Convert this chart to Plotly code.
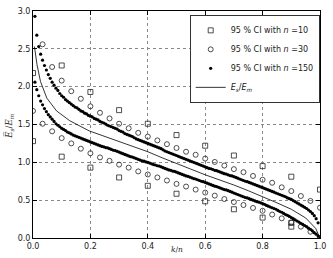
import plotly.graph_objects as go

# ---- data ----
sq_up_x = [0.0, 0.1, 0.2, 0.3, 0.4, 0.5, 0.6, 0.7, 0.8, 0.9, 1.0]
sq_up_y = [2.18, 2.28, 1.93, 1.69, 1.51, 1.36, 1.22, 1.09, 0.95, 0.81, 0.64]
sq_lo_x = [0.0, 0.1, 0.2, 0.3, 0.4, 0.5, 0.6, 0.7, 0.8, 0.9, 0.9]
sq_lo_y = [1.28, 1.075, 0.93, 0.80, 0.69, 0.585, 0.485, 0.38, 0.27, 0.20, 0.15]

k30 = list(range(0, 31))
c_up_y = [1.68, 2.56, 2.26, 2.08, 1.94, 1.84, 1.74, 1.655, 1.58, 1.51, 1.45,
          1.39, 1.34, 1.29, 1.24, 1.19, 1.14, 1.10, 1.05, 1.005, 0.957,
          0.91, 0.87, 0.82, 0.77, 0.73, 0.67, 0.62, 0.555, 0.49, 0.40]
c_lo_y = [None, 1.51, 1.41, 1.32, 1.25, 1.18, 1.12, 1.065, 1.02, 0.97, 0.93,
          0.88, 0.84, 0.80, 0.76, 0.715, 0.68, 0.64, 0.60, 0.56, 0.515,
          0.475, 0.436, 0.397, 0.36, 0.31, 0.26, 0.205, 0.15, 0.083, 0.0]

k150 = list(range(1, 151))
d_up_y = [2.93, 2.68, 2.53, 2.43, 2.35, 2.28, 2.22, 2.16, 2.11, 2.06,
          2.02, 1.98, 1.95, 1.91, 1.88, 1.86, 1.83, 1.81, 1.79, 1.77,
          1.75, 1.73, 1.72, 1.70, 1.68, 1.67, 1.65, 1.64, 1.62, 1.61,
          1.60, 1.58, 1.57, 1.56, 1.54, 1.53, 1.52, 1.505, 1.49, 1.48,
          1.47, 1.46, 1.45, 1.44, 1.42, 1.41, 1.40, 1.38, 1.37, 1.36,
          1.35, 1.34, 1.325, 1.31, 1.30, 1.29, 1.28, 1.27, 1.26, 1.25,
          1.24, 1.23, 1.22, 1.21, 1.20, 1.19, 1.18, 1.165, 1.15, 1.14,
          1.13, 1.12, 1.11, 1.10, 1.09, 1.08, 1.07, 1.06, 1.05, 1.04,
          1.03, 1.02, 1.01, 1.00, 0.99, 0.98, 0.97, 0.96, 0.95, 0.94,
          0.93, 0.92, 0.915, 0.905, 0.895, 0.89, 0.88, 0.87, 0.86, 0.85,
          0.845, 0.835, 0.825, 0.82, 0.81, 0.80, 0.79, 0.78, 0.77, 0.76,
          0.75, 0.745, 0.735, 0.725, 0.715, 0.705, 0.695, 0.685, 0.675, 0.665,
          0.655, 0.645, 0.635, 0.625, 0.615, 0.605, 0.595, 0.585, 0.575, 0.565,
          0.555, 0.545, 0.53, 0.52, 0.51, 0.495, 0.48, 0.465, 0.45, 0.435,
          0.42, 0.405, 0.39, 0.37, 0.35, 0.325, 0.295, 0.255, 0.20, 0.0]
d_lo_y = [2.06, 1.96, 1.88, 1.81, 1.76, 1.71, 1.67, 1.63, 1.60, 1.57,
          1.54, 1.51, 1.49, 1.47, 1.45, 1.435, 1.42, 1.40, 1.39, 1.375,
          1.36, 1.35, 1.34, 1.33, 1.32, 1.31, 1.30, 1.29, 1.28, 1.27,
          1.26, 1.25, 1.24, 1.23, 1.22, 1.21, 1.205, 1.195, 1.19, 1.18,
          1.17, 1.16, 1.155, 1.145, 1.135, 1.125, 1.115, 1.105, 1.095, 1.085,
          1.075, 1.07, 1.06, 1.05, 1.04, 1.03, 1.02, 1.015, 1.005, 1.00,
          0.99, 0.98, 0.97, 0.965, 0.955, 0.95, 0.94, 0.93, 0.92, 0.91,
          0.90, 0.895, 0.885, 0.88, 0.87, 0.86, 0.85, 0.84, 0.83, 0.82,
          0.815, 0.805, 0.795, 0.785, 0.78, 0.77, 0.76, 0.75, 0.745, 0.735,
          0.725, 0.715, 0.705, 0.695, 0.685, 0.68, 0.67, 0.66, 0.65, 0.64,
          0.635, 0.625, 0.615, 0.605, 0.595, 0.585, 0.575, 0.565, 0.555, 0.545,
          0.535, 0.53, 0.52, 0.51, 0.50, 0.49, 0.48, 0.475, 0.465, 0.455,
          0.445, 0.43, 0.42, 0.41, 0.40, 0.39, 0.38, 0.365, 0.35, 0.34,
          0.325, 0.31, 0.30, 0.285, 0.27, 0.255, 0.24, 0.225, 0.21, 0.195,
          0.18, 0.165, 0.15, 0.13, 0.115, 0.095, 0.07, 0.05, 0.025, 0.0]

mean_x = [0.005, 0.014, 0.026, 0.048, 0.082, 0.128, 0.196, 0.25, 0.3, 0.35,
          0.4, 0.45, 0.5, 0.55, 0.6, 0.65, 0.7, 0.75, 0.8, 0.85, 0.9, 0.95,
          0.985, 1.0]
mean_y = [2.53, 2.29, 2.07, 1.85, 1.68, 1.55, 1.415, 1.34, 1.27, 1.21,
          1.14, 1.06, 0.99, 0.91, 0.835, 0.77, 0.70, 0.625, 0.55, 0.465,
          0.38, 0.265, 0.127, 0.0]

x_ticks = [0.0, 0.2, 0.4, 0.6, 0.8, 1.0]
y_ticks = [0.0, 0.5, 1.0, 1.5, 2.0, 2.5, 3.0]

# ---- figure ----
c30x = [k / 30 for k in k30]
c150x = [k / 150 for k in k150]
lbl = "95 % CI with <i>n</i> ="
mk_sq = dict(symbol="square-open", size=5, color="#222", line=dict(width=0.8))
mk_ci = dict(symbol="circle-open", size=5, color="#222", line=dict(width=0.8))
mk_dt = dict(symbol="circle", size=3.2, color="black")

fig = go.Figure()
fig.add_trace(go.Scatter(x=sq_up_x, y=sq_up_y, mode="markers", marker=mk_sq,
                         name=lbl + "10", legendgroup="a", cliponaxis=True))
fig.add_trace(go.Scatter(x=sq_lo_x, y=sq_lo_y, mode="markers", marker=mk_sq,
                         showlegend=False, legendgroup="a", cliponaxis=True))
fig.add_trace(go.Scatter(x=c30x, y=c_up_y, mode="markers", marker=mk_ci,
                         name=lbl + "30", legendgroup="b", cliponaxis=True))
fig.add_trace(go.Scatter(x=c30x, y=c_lo_y, mode="markers", marker=mk_ci,
                         showlegend=False, legendgroup="b", cliponaxis=True))
fig.add_trace(go.Scatter(x=c150x, y=d_up_y, mode="markers", marker=mk_dt,
                         name=lbl + "150", legendgroup="c", cliponaxis=True))
fig.add_trace(go.Scatter(x=c150x, y=d_lo_y, mode="markers", marker=mk_dt,
                         showlegend=False, legendgroup="c", cliponaxis=True))
fig.add_trace(go.Scatter(x=mean_x, y=mean_y, mode="lines",
                         line=dict(color="black", width=0.8),
                         name="<i>E<sub>s</sub></i>/<i>E<sub>m</sub></i>"))

ax = dict(showline=True, linecolor="black", linewidth=1, mirror="ticks",
          ticks="inside", ticklen=4, tickwidth=0.8, tickcolor="black",
          showgrid=True, gridcolor="#888", griddash="dot", gridwidth=0.7,
          zeroline=False, tickfont=dict(family="DejaVu Sans", size=8, color="#222"))

fig.update_layout(
    width=333, height=258,
    margin=dict(l=33, r=7, t=9, b=20),
    paper_bgcolor="white", plot_bgcolor="white",
    xaxis=dict(range=[0, 1], tickvals=x_ticks,
               ticktext=[f"{v:.1f}" for v in x_ticks], **ax),
    yaxis=dict(range=[0, 3], tickvals=y_ticks,
               ticktext=[f"{v:.1f}" for v in y_ticks], **ax),
    legend=dict(x=0.546, y=0.983, xanchor="left", yanchor="top",
                bgcolor="white", bordercolor="#333", borderwidth=1,
                font=dict(family="DejaVu Sans", size=8, color="#222"),
                tracegroupgap=0, itemwidth=30),
    showlegend=True,
    annotations=[
        dict(text="<i>k</i>/<i>n</i>", xref="paper", yref="paper", x=0.5, y=0,
             yshift=-11, showarrow=False, yanchor="middle",
             font=dict(family="DejaVu Serif", size=7.5, color="#222")),
        dict(text="<i>E̅<sub>s</sub></i>/<i>E<sub>m</sub></i>", xref="paper",
             yref="paper", x=0, y=0.49, xshift=-24, showarrow=False,
             textangle=-90, xanchor="center",
             font=dict(family="DejaVu Serif", size=8.5, color="#222")),
    ],
)

fig.write_html("out.html")
